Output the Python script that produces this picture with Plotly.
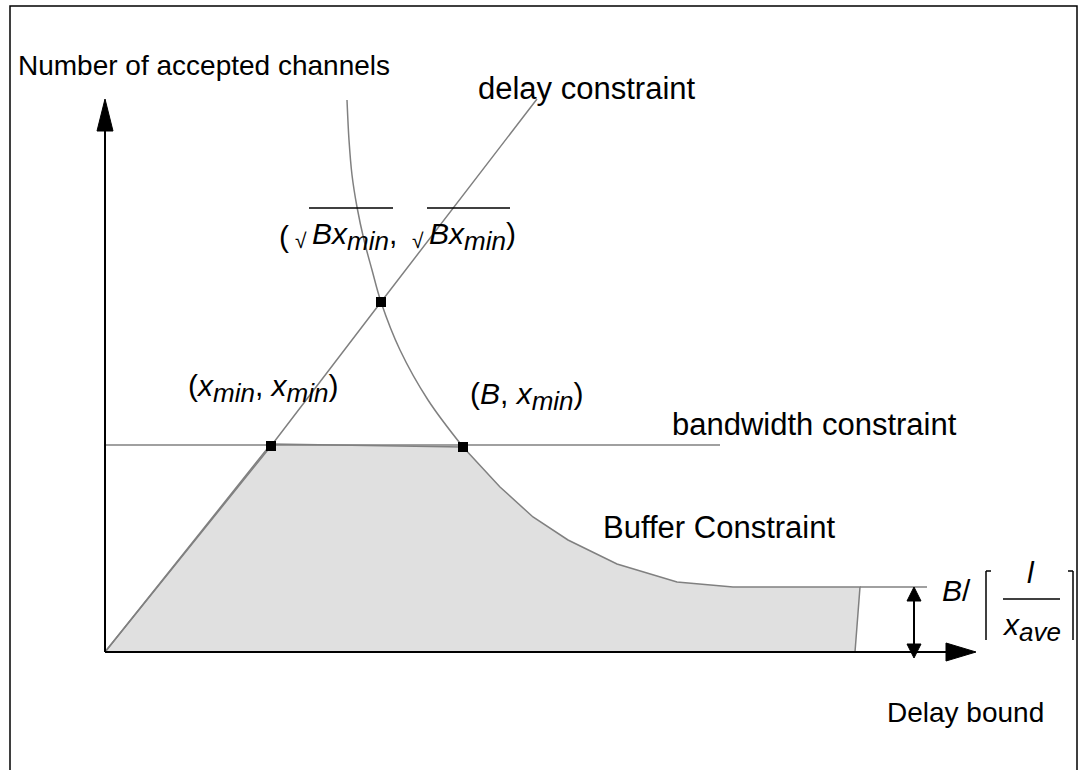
import plotly.graph_objects as go

# diagram drawn in a pixel-like coordinate system (x right, y down)
W, H = 1079, 770

# feasible region (shaded)
region_x = [105, 271, 463, 500, 533, 568, 617, 677, 733, 860, 855, 105]
region_y = [652, 444, 447, 487, 517, 540, 564, 582, 587, 587, 652, 652]

# delay constraint line
delay_x = [105, 271, 381, 537]
delay_y = [652, 446, 302, 99]

# buffer constraint curve above the region
curve_x = [347, 349, 352, 357, 364, 372, 381, 400, 428, 463]
curve_y = [100, 140, 175, 207, 240, 270, 302, 350, 400, 447]

# bandwidth constraint line
bw_x = [105, 720]
bw_y = [445, 445]

# corner points
pts_x = [271, 381, 463]
pts_y = [446, 302, 447]

# axes
yaxis_x, yaxis_y = [105, 105], [652, 128]
xaxis_x, xaxis_y = [105, 950], [652, 652]
yarrow_x, yarrow_y = [105, 97, 113, 105], [99, 131, 131, 99]
xarrow_x, xarrow_y = [976, 946, 946, 976], [652, 643, 661, 652]

# B / ceil(l/x_ave) marker
level_x, level_y = [860, 927], [587, 587]
dim_x, dim_y = [914, 914], [598, 646]
dim_top_x, dim_top_y = [914, 907, 921, 914], [587, 601, 601, 587]
dim_bot_x, dim_bot_y = [914, 907, 921, 914], [658, 644, 644, 658]

fig = go.Figure()

gray = "#808080"

fig.add_trace(go.Scatter(x=region_x, y=region_y, fill="toself", fillcolor="#e0e0e0",
                         mode="lines", line=dict(color=gray, width=1.5)))
fig.add_trace(go.Scatter(x=delay_x, y=delay_y, mode="lines", line=dict(color=gray, width=1.5)))
fig.add_trace(go.Scatter(x=curve_x, y=curve_y, mode="lines",
                         line=dict(color=gray, width=1.5, shape="spline")))
fig.add_trace(go.Scatter(x=bw_x, y=bw_y, mode="lines", line=dict(color=gray, width=1.5)))
fig.add_trace(go.Scatter(x=level_x, y=level_y, mode="lines", line=dict(color=gray, width=1.5)))

# axes and arrows
for ax, ay in [(yaxis_x, yaxis_y), (xaxis_x, xaxis_y), (dim_x, dim_y)]:
    fig.add_trace(go.Scatter(x=ax, y=ay, mode="lines", line=dict(color="black", width=2)))
for ax, ay in [(yarrow_x, yarrow_y), (xarrow_x, xarrow_y),
               (dim_top_x, dim_top_y), (dim_bot_x, dim_bot_y)]:
    fig.add_trace(go.Scatter(x=ax, y=ay, fill="toself", fillcolor="black", mode="lines",
                             line=dict(color="black", width=1)))

fig.add_trace(go.Scatter(x=pts_x, y=pts_y, mode="markers",
                         marker=dict(symbol="square", size=10, color="black")))

FAM = "Liberation Sans, Arial"


def label(x, y, text, size=28, anchor="left"):
    fig.add_annotation(x=x, y=y, text=text, showarrow=False, xanchor=anchor,
                       yanchor="middle", font=dict(family=FAM, size=size, color="black"))


def sub(t):
    return "<sub><span style='font-size:26px'>" + t + "</span></sub>"


label(16, 65, "Number of accepted channels")
label(476, 88, "delay constraint", 31)
label(670, 424, "bandwidth constraint", 31)
label(601, 527, "Buffer Constraint", 31)
label(885, 712, "Delay bound")

label(186, 388, "(<i>x</i>" + sub("<i>min</i>") + ", <i>x</i>" + sub("<i>min</i>") + ")", 30)
label(468, 396, "(<i>B</i>, <i>x</i>" + sub("<i>min</i>") + ")", 30)

label(277, 236, "(", 30)
label(293, 240, "√", 21)
label(310, 236, "<i>Bx</i>" + sub("<i>min</i>") + ",", 30)
label(410, 240, "√", 21)
label(427, 236, "<i>Bx</i>" + sub("<i>min</i>") + ")", 30)

label(940, 590, "<i>B</i>/", 30)
label(1031, 572, "<i>l</i>", 30, "center")
label(1031, 627, "<i>x</i>" + sub("<i>ave</i>"), 30, "center")

shapes = [
    # overbars of the square roots
    dict(type="line", x0=309, x1=393, y0=208, y1=208),
    dict(type="line", x0=427, x1=510, y0=208, y1=208),
    # fraction bar
    dict(type="line", x0=1003, x1=1060, y0=599, y1=599),
    # ceiling brackets
    dict(type="line", x0=986, x1=986, y0=571, y1=640),
    dict(type="line", x0=986, x1=991, y0=571, y1=571),
    dict(type="line", x0=1073, x1=1073, y0=571, y1=640),
    dict(type="line", x0=1068, x1=1073, y0=571, y1=571),
    # frame
    dict(type="rect", x0=10, x1=1077, y0=6, y1=800),
]
for s in shapes:
    s["xref"] = "x"
    s["yref"] = "y"
    s["line"] = dict(color="black", width=1.5)
fig.update_layout(shapes=shapes)

fig.update_layout(
    width=W, height=H,
    margin=dict(l=0, r=0, t=0, b=0),
    showlegend=False,
    plot_bgcolor="white", paper_bgcolor="white",
    xaxis=dict(range=[0, W], visible=False, fixedrange=True),
    yaxis=dict(range=[H, 0], visible=False, fixedrange=True),
)

fig.write_html("out.html", config={"displayModeBar": False},
               post_script="document.body.style.margin='0';")
